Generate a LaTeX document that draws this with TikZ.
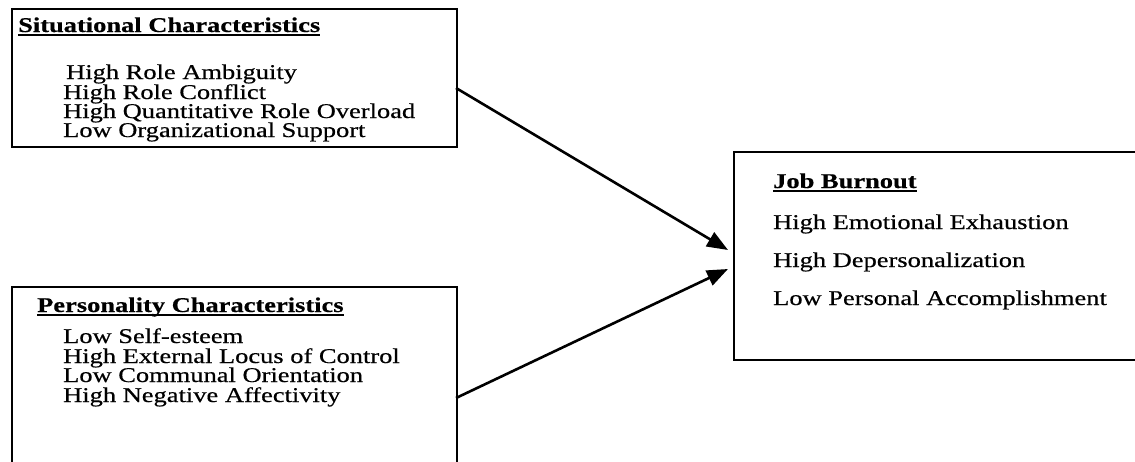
\documentclass[tikz,border=0pt]{standalone}
\usepackage{fontspec}
\setmainfont[FakeStretch=1.26,FakeBold=0.5]{Liberation Serif}
\usetikzlibrary{arrows.meta}
\newcommand\myul[1]{\setbox0\hbox{#1}\rlap{\raisebox{-3.5pt}{\rule{\wd0}{2pt}}}\box0}
\begin{document}
\begin{tikzpicture}[x=1pt,y=-1pt,
  every node/.style={inner sep=0pt, font=\fontsize{21}{24}\selectfont},
  box/.style={draw, line width=2pt, inner sep=0pt, anchor=north west},
  item/.style={anchor=base west, text height=14pt, text depth=4.5pt},
  head/.style={anchor=base west, font=\fontsize{21}{24}\selectfont\bfseries},
  link/.style={line width=2.6pt, -{Triangle[length=21pt,width=16pt]}}]
\useasboundingbox (0,0) rectangle (1135,461);
% boxes
\node[box, minimum width=445pt, minimum height=138pt] (sit) at (11,8) {};
\node[box, minimum width=445pt, minimum height=200pt] (per) at (11,286) {};
\node[box, minimum width=412pt, minimum height=208pt] (jb) at (733,151) {};
% situational
\node[head] (sith) at (18,32) {\myul{Situational Characteristics}};
\node[item] (s1) at (66,79) {High Role Ambiguity};
\node[item] (s2) at (63,99) {High Role Conflict};
\node[item] (s3) at (63,118) {High Quantitative Role Overload};
\node[item] (s4) at (63,137) {Low Organizational Support};
% personality
\node[head] (perh) at (37,312) {\myul{Personality Characteristics}};
\node[item] (p1) at (63,343) {Low Self-esteem};
\node[item] (p2) at (63,363) {High External Locus of Control};
\node[item] (p3) at (63,382) {Low Communal Orientation};
\node[item] (p4) at (63,402) {High Negative Affectivity};
% job burnout
\node[head] (jbh) at (773,188) {\myul{Job Burnout}};
\node[item] (j1) at (773,229) {High Emotional Exhaustion};
\node[item] (j2) at (773,267) {High Depersonalization};
\node[item] (j3) at (773,305) {Low Personal Accomplishment};
% connectors
\coordinate (a1s) at (456,88);
\coordinate (a1e) at (728,250);
\coordinate (a2s) at (456,398);
\coordinate (a2e) at (728,269);
\draw[link] (a1s) -- (a1e);
\draw[link] (a2s) -- (a2e);
\end{tikzpicture}
\end{document}
